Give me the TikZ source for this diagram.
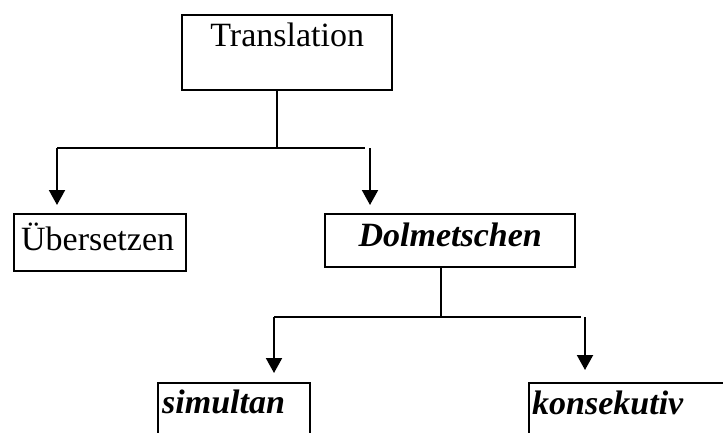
\documentclass[tikz,border=0pt]{standalone}
\usepackage{fontspec}
\setmainfont{Liberation Serif}
\usetikzlibrary{arrows.meta}
\begin{document}
\begin{tikzpicture}[x=1pt,y=-1pt,
  box/.style={draw, line width=2.4pt, rectangle, anchor=north west,
    inner ysep=0pt, font=\fontsize{34}{38}\selectfont},
  leftbox/.style={box, align=left},
  emph/.style={font=\fontsize{34}{38}\selectfont\bfseries\itshape},
  wire/.style={line width=2pt},
  arr/.style={wire, -{Triangle[width=16pt,length=15pt]}}
]
\clip (0,0) rectangle (723,432);
\fill[white] (0,0) rectangle (723,432);

% boxes
\node[box, minimum width=210pt, text height=31pt, text depth=44pt]
  (trans) at (181,14) {Translation};
\node[leftbox, inner xsep=7pt, text width=158pt, text height=36pt, text depth=21pt]
  (ueb) at (13,213) {Übersetzen};
\node[box, emph, minimum width=250pt, text height=32pt, text depth=21pt]
  (dol) at (324,213) {Dolmetschen};
\node[leftbox, emph, inner xsep=4pt, text width=144pt, text height=30pt, text depth=40pt]
  (sim) at (157,382) {simultan};
\node[leftbox, emph, inner xsep=3pt, text width=230pt, text height=31pt, text depth=40pt]
  (kon) at (528,382) {konsekutiv};

% first branching
\coordinate (s1) at (277,148);
\coordinate (b1) at (57,148);
\coordinate (b2) at (365,148);
\coordinate (b3) at (370,148);
\draw[wire] (trans.south -| s1) -- (s1);
\draw[wire] (b1) -- (b2);
\draw[arr, shorten >=8pt] (b1) -- (b1 |- ueb.north);
\draw[arr, shorten >=8pt] (b3) -- (b3 |- dol.north);

% second branching
\coordinate (s2) at (441,317);
\coordinate (c1) at (274,317);
\coordinate (c2) at (581,317);
\coordinate (c3) at (585,317);
\draw[wire] (dol.south -| s2) -- (s2);
\draw[wire] (c1) -- (c2);
\draw[arr, shorten >=9pt] (c1) -- (c1 |- sim.north);
\draw[arr, shorten >=12pt] (c3) -- (c3 |- kon.north);
\end{tikzpicture}
\end{document}
